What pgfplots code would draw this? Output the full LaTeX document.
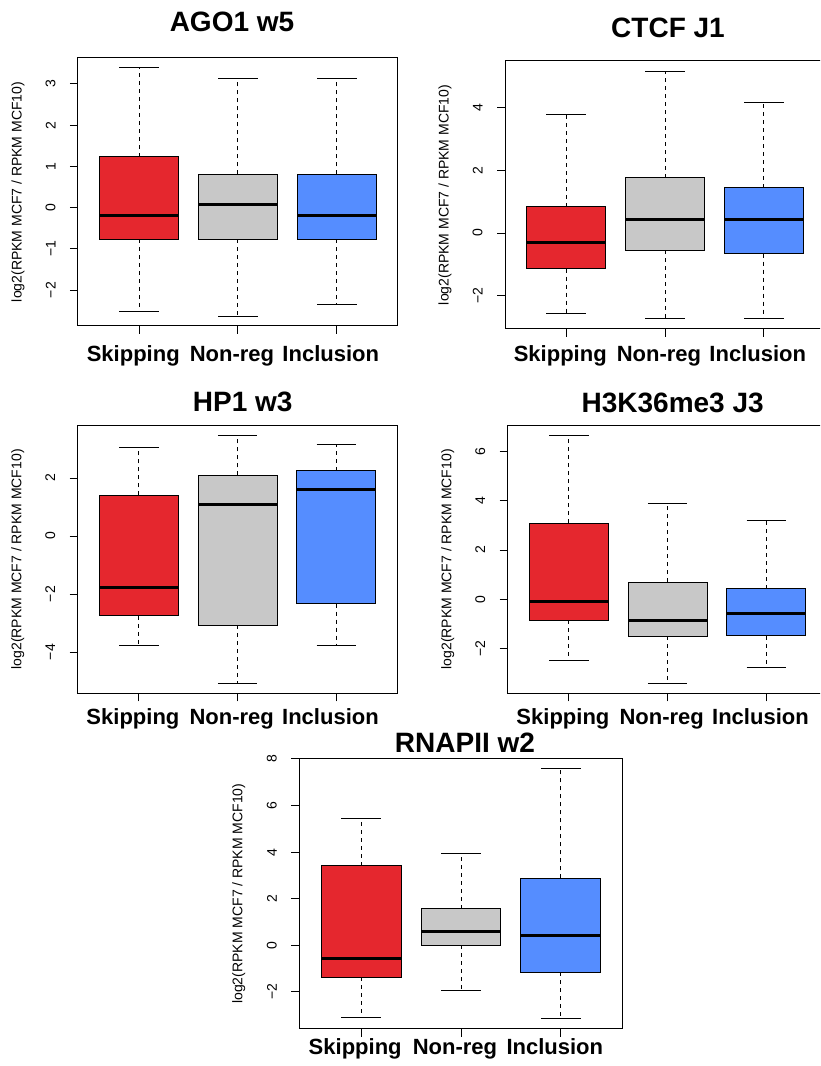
\documentclass[border=0pt]{standalone}
\usepackage{fontspec}
\setmainfont{Liberation Sans}
\usepackage{pgfplots}
\pgfplotsset{compat=1.18}
\usepgfplotslibrary{statistics}

\definecolor{skipred}{RGB}{229,39,46}
\definecolor{nonreggray}{RGB}{200,200,200}
\definecolor{inclblue}{RGB}{85,141,255}

\pgfplotsset{
  % R style whiskers: dashed line, solid staple
  boxplot/draw/lower whisker/.code={%
    \draw[black, line width=0.5pt, dash pattern=on 2pt off 2pt]
      (boxplot box cs:\pgfplotsboxplotvalue{lower quartile},0.5) --
      (boxplot box cs:\pgfplotsboxplotvalue{lower whisker},0.5);
    \draw[black, line width=0.5pt]
      (boxplot whisker cs:\pgfplotsboxplotvalue{lower whisker},0) --
      (boxplot whisker cs:\pgfplotsboxplotvalue{lower whisker},1);
  },
  boxplot/draw/upper whisker/.code={%
    \draw[black, line width=0.5pt, dash pattern=on 2pt off 2pt]
      (boxplot box cs:\pgfplotsboxplotvalue{upper quartile},0.5) --
      (boxplot box cs:\pgfplotsboxplotvalue{upper whisker},0.5);
    \draw[black, line width=0.5pt]
      (boxplot whisker cs:\pgfplotsboxplotvalue{upper whisker},0) --
      (boxplot whisker cs:\pgfplotsboxplotvalue{upper whisker},1);
  },
  rpanel/.style={
    scale only axis, width=160pt, height=134pt, anchor=south west,
    xmin=0.38, xmax=3.62,
    xtick={1,2,3}, xticklabels={Skipping,Non-reg,Inclusion},
    tick align=outside, xtick pos=left, ytick pos=left,
    major tick length=4pt,
    axis line style={black, line width=0.5pt},
    tick style={black, line width=0.5pt},
    yticklabel style={font=\fontsize{7}{8}\selectfont, xshift=-3.7pt, rotate=90, anchor=south},
    xticklabel style={font=\fontsize{11}{13}\selectfont\bfseries, anchor=base, xshift=-3pt},
    ylabel={log2(RPKM MCF7 / RPKM MCF10)},
    every axis y label/.style={at={(axis description cs:-0.1875,0.5)}, rotate=90,
      anchor=center, font=\fontsize{7}{8}\selectfont},
    every axis title/.style={at={(axis description cs:0.5,1)}, anchor=base,
      font=\fontsize{14}{16}\selectfont\bfseries},
  },
  rbox/.style={black, line width=0.5pt,
    boxplot prepared={draw direction=y, box extend=0.8, whisker extend=0.4,
      every median/.style={line width=1.5pt}}},
}

\begin{document}
\begin{tikzpicture}
\useasboundingbox (0,0) rectangle (410pt,533pt);
\clip (0,0) rectangle (410pt,533pt);

% AGO1 w5
\begin{axis}[rpanel, at={(39pt,370pt)},
  title={AGO1 w5}, title style={xshift=-3pt, yshift=13.3pt},
  xticklabel style={yshift=-13.8pt},
  ymin=-2.87, ymax=3.63, ytick={-2,-1,0,1,2,3}, yticklabels={−2,−1,0,1,2,3}]
\addplot[rbox, boxplot prepared={draw position=1, lower whisker=-2.51, lower quartile=-0.77, median=-0.18, upper quartile=1.23, upper whisker=3.39, every box/.style={fill=skipred}}] coordinates {};
\addplot[rbox, boxplot prepared={draw position=2, lower whisker=-2.63, lower quartile=-0.77, median=0.08, upper quartile=0.81, upper whisker=3.13, every box/.style={fill=nonreggray}}] coordinates {};
\addplot[rbox, boxplot prepared={draw position=3, lower whisker=-2.35, lower quartile=-0.77, median=-0.18, upper quartile=0.81, upper whisker=3.13, every box/.style={fill=inclblue}}] coordinates {};
\end{axis}

% CTCF J1
\begin{axis}[rpanel, at={(252.5pt,368.5pt)},
  title={CTCF J1}, title style={xshift=1.5pt, yshift=11.7pt},
  xticklabel style={yshift=-12.3pt},
  ymin=-3.05, ymax=5.47, ytick={-2,0,2,4}, yticklabels={−2,0,2,4}]
\addplot[rbox, boxplot prepared={draw position=1, lower whisker=-2.55, lower quartile=-1.13, median=-0.30, upper quartile=0.84, upper whisker=3.78, every box/.style={fill=skipred}}] coordinates {};
\addplot[rbox, boxplot prepared={draw position=2, lower whisker=-2.73, lower quartile=-0.54, median=0.44, upper quartile=1.76, upper whisker=5.15, every box/.style={fill=nonreggray}}] coordinates {};
\addplot[rbox, boxplot prepared={draw position=3, lower whisker=-2.73, lower quartile=-0.65, median=0.44, upper quartile=1.44, upper whisker=4.15, every box/.style={fill=inclblue}}] coordinates {};
\end{axis}

% HP1 w3
\begin{axis}[rpanel, at={(38.85pt,186.35pt)},
  title={HP1 w3}, title style={xshift=2.5pt, yshift=7pt},
  xticklabel style={yshift=-11.8pt},
  ymin=-5.42, ymax=3.82, ytick={-4,-2,0,2}, yticklabels={−4,−2,0,2}]
\addplot[rbox, boxplot prepared={draw position=1, lower whisker=-3.76, lower quartile=-2.75, median=-1.76, upper quartile=1.40, upper whisker=3.07, every box/.style={fill=skipred}}] coordinates {};
\addplot[rbox, boxplot prepared={draw position=2, lower whisker=-5.08, lower quartile=-3.07, median=1.10, upper quartile=2.09, upper whisker=3.48, every box/.style={fill=nonreggray}}] coordinates {};
\addplot[rbox, boxplot prepared={draw position=3, lower whisker=-3.76, lower quartile=-2.33, median=1.59, upper quartile=2.26, upper whisker=3.17, every box/.style={fill=inclblue}}] coordinates {};
\end{axis}

% H3K36me3 J3
\begin{axis}[rpanel, at={(253.85pt,186.35pt)},
  title={H3K36me3 J3}, title style={xshift=2.5pt, yshift=6.5pt},
  xticklabel style={yshift=-11.8pt},
  ymin=-3.83, ymax=7.08, ytick={-2,0,2,4,6}, yticklabels={−2,0,2,4,6}]
\addplot[rbox, boxplot prepared={draw position=1, lower whisker=-2.48, lower quartile=-0.85, median=-0.09, upper quartile=3.10, upper whisker=6.68, every box/.style={fill=skipred}}] coordinates {};
\addplot[rbox, boxplot prepared={draw position=2, lower whisker=-3.43, lower quartile=-1.50, median=-0.85, upper quartile=0.70, upper whisker=3.89, every box/.style={fill=nonreggray}}] coordinates {};
\addplot[rbox, boxplot prepared={draw position=3, lower whisker=-2.78, lower quartile=-1.49, median=-0.58, upper quartile=0.42, upper whisker=3.21, every box/.style={fill=inclblue}}] coordinates {};
\end{axis}

% RNAPII w2
\begin{axis}[rpanel, at={(149.65pt,18.5pt)}, width=161.7pt, height=135.35pt,
  title={RNAPII w2}, title style={xshift=2pt, yshift=2.8pt},
  xticklabel style={yshift=-9pt},
  ymin=-3.59, ymax=8.03, ytick={-2,0,2,4,6,8}, yticklabels={−2,0,2,4,6,8}]
\addplot[rbox, boxplot prepared={draw position=1, lower whisker=-3.09, lower quartile=-1.37, median=-0.57, upper quartile=3.42, upper whisker=5.43, every box/.style={fill=skipred}}] coordinates {};
\addplot[rbox, boxplot prepared={draw position=2, lower whisker=-1.93, lower quartile=0.00, median=0.58, upper quartile=1.57, upper whisker=3.95, every box/.style={fill=nonreggray}}] coordinates {};
\addplot[rbox, boxplot prepared={draw position=3, lower whisker=-3.16, lower quartile=-1.16, median=0.43, upper quartile=2.88, upper whisker=7.60, every box/.style={fill=inclblue}}] coordinates {};
\end{axis}
\end{tikzpicture}
\end{document}
